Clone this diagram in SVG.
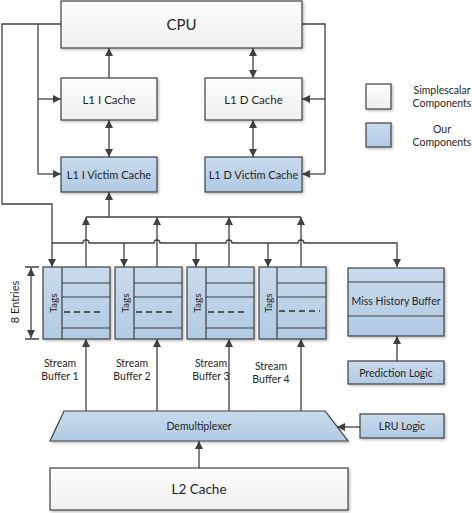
<svg xmlns="http://www.w3.org/2000/svg" width="472" height="513" viewBox="0 0 472 513">
<defs>
<linearGradient id="gw" x1="0" y1="0" x2="0" y2="1"><stop offset="0" stop-color="#fdfdfd"/><stop offset="1" stop-color="#efefef"/></linearGradient>
<linearGradient id="gb" x1="0" y1="0" x2="0" y2="1"><stop offset="0" stop-color="#c9dbed"/><stop offset="1" stop-color="#b1cae3"/></linearGradient>
<filter id="sh" x="-10%" y="-10%" width="130%" height="140%"><feDropShadow dx="1.5" dy="1.5" stdDeviation="1" flood-color="#000" flood-opacity="0.25"/></filter>
<marker id="ah" viewBox="0 0 10 10" refX="10" refY="5" markerWidth="9" markerHeight="8" markerUnits="userSpaceOnUse" orient="auto-start-reverse"><path d="M0,0 L10,5 L0,10 z" fill="#404040"/></marker>
</defs>
<style>
.w{fill:url(#gw);stroke:#404040;stroke-width:1.2;filter:url(#sh)}
.b{fill:url(#gb);stroke:#404040;stroke-width:1.2;filter:url(#sh)}
.ln{fill:none;stroke:#404040;stroke-width:1.2}
.dl{fill:none;stroke:#303030;stroke-width:1.4;stroke-dasharray:6,4}
.c{fill:none;stroke:#404040;stroke-width:1.3}
.a{marker-end:url(#ah)}
.d{marker-start:url(#ah);marker-end:url(#ah)}
text{font-family:Lato,"Open Sans",sans-serif;fill:#262626;text-anchor:middle;dominant-baseline:central}
</style>
<rect x="0" y="0" width="472" height="513" fill="#ffffff"/>
<g id="connectors">
<path class="c" d="M61,24 H2 V204 H52 V267" marker-end="url(#ah)"/>
<path class="c" d="M38,24 V174"/>
<path class="c a" d="M38,99 H61"/>
<path class="c a" d="M38,174 H61"/>
<path class="c" d="M302,24 H325 V174"/>
<path class="c a" d="M325,99 H302"/>
<path class="c a" d="M325,174 H302"/>
<path class="c a" d="M109,78 V48"/>
<path class="c d" d="M253,48 V78"/>
<path class="c d" d="M109,120 V157"/>
<path class="c d" d="M253,120 V157"/>
<path class="c a" d="M109,217 V192"/>
<path class="c" d="M86,217 H301"/>
<path class="c a" d="M86,267 V217"/>
<path class="c a" d="M157,267 V217"/>
<path class="c a" d="M229,267 V217"/>
<path class="c a" d="M301,267 V217"/>
<path class="c" d="M52,243 H83 a3,3 0 0 1 6,0 H154 a3,3 0 0 1 6,0 H226 a3,3 0 0 1 6,0 H298 a3,3 0 0 1 6,0 H397 V267" marker-end="url(#ah)"/>
<path class="c a" d="M124,243 V267"/>
<path class="c a" d="M196,243 V267"/>
<path class="c a" d="M268,243 V267"/>
<path class="c a" d="M86,411 V339"/>
<path class="c a" d="M157,411 V339"/>
<path class="c a" d="M229,411 V339"/>
<path class="c a" d="M301,411 V339"/>
<path class="c a" d="M397,361 V336"/>
<path class="c a" d="M360,427 H337"/>
<path class="c a" d="M199,468 V441"/>
<path class="c" d="M25,267 H39 M25,339 H39"/>
<path class="c d" d="M31,268 V338"/>
</g>
<g id="cpu"><rect class="w" x="61" y="1" width="241" height="47"/><text x="181.5" y="24" font-size="15">CPU</text></g>
<g id="l1i"><rect class="w" x="61" y="78" width="96" height="42"/><text x="109" y="99" font-size="11.5">L1 I Cache</text></g>
<g id="l1d"><rect class="w" x="205" y="78" width="97" height="42"/><text x="253.5" y="99" font-size="11.5">L1 D Cache</text></g>
<g id="l1iv"><rect class="b" x="61" y="157" width="96" height="35"/><text x="109" y="174.5" font-size="11">L1 I Victim Cache</text></g>
<g id="l1dv"><rect class="b" x="205" y="157" width="97" height="35"/><text x="253.5" y="174.5" font-size="11">L1 D Victim Cache</text></g>
<g id="sb1">
<rect class="b" x="43" y="267" width="67" height="72"/>
<path class="ln" d="M62,267 V339 M62,283 H110 M62,297 H110 M62,328 H110"/>
<path class="dl" d="M64,312 H104"/>
<text x="52.5" y="303" font-size="10" transform="rotate(-90 52.5 303)">Tags</text>
</g>
<g id="sb2">
<rect class="b" x="115" y="267" width="67" height="72"/>
<path class="ln" d="M134,267 V339 M134,283 H182 M134,297 H182 M134,328 H182"/>
<path class="dl" d="M136,312 H176"/>
<text x="124.5" y="303" font-size="10" transform="rotate(-90 124.5 303)">Tags</text>
</g>
<g id="sb3">
<rect class="b" x="187" y="267" width="67" height="72"/>
<path class="ln" d="M206,267 V339 M206,283 H254 M206,297 H254 M206,328 H254"/>
<path class="dl" d="M208,312 H248"/>
<text x="196.5" y="303" font-size="10" transform="rotate(-90 196.5 303)">Tags</text>
</g>
<g id="sb4">
<rect class="b" x="259" y="267" width="67" height="72"/>
<path class="ln" d="M277,267 V339 M277,283 H326 M277,297 H326 M277,328 H326"/>
<path class="dl" d="M279,311 H320"/>
<text x="268" y="303" font-size="10" transform="rotate(-90 268 303)">Tags</text>
</g>
<g id="entries"><text x="14" y="302" font-size="11" transform="rotate(-90 14 302)">8 Entries</text></g>
<g id="mhb">
<rect class="b" x="348" y="268" width="96" height="68"/>
<path class="ln" d="M348,282 H444 M348,316 H444"/>
<text x="396" y="301" font-size="10.5">Miss History Buffer</text>
</g>
<g id="pred"><rect class="b" x="348" y="361" width="96" height="23"/><text x="396" y="372.5" font-size="10.5">Prediction Logic</text></g>
<g id="labels">
<text x="60" y="363" font-size="10.5">Stream</text><text x="60" y="375.5" font-size="10.5">Buffer 1</text>
<text x="132" y="363" font-size="10.5">Stream</text><text x="132" y="375.5" font-size="10.5">Buffer 2</text>
<text x="211" y="363" font-size="10.5">Stream</text><text x="211" y="375.5" font-size="10.5">Buffer 3</text>
<text x="271" y="366" font-size="10.5">Stream</text><text x="271" y="378.5" font-size="10.5">Buffer 4</text>
</g>
<g id="demux"><polygon class="b" points="64,411 325,411 348,441 50,441"/><text x="199" y="426" font-size="10.5">Demultiplexer</text></g>
<g id="lru"><rect class="b" x="360" y="414" width="84" height="24"/><text x="402" y="426" font-size="10.5">LRU Logic</text></g>
<g id="l2"><rect class="w" x="50" y="468" width="298" height="42"/><text x="199" y="489" font-size="13.5">L2 Cache</text></g>
<g id="legend">
<rect class="w" x="366" y="84" width="25" height="25"/>
<text x="442" y="90" font-size="10.5">Simplescalar</text><text x="442" y="103" font-size="10.5">Components</text>
<rect class="b" x="366" y="123" width="25" height="24"/>
<text x="442" y="129" font-size="10.5">Our</text><text x="442" y="142" font-size="10.5">Components</text>
</g>
</svg>
